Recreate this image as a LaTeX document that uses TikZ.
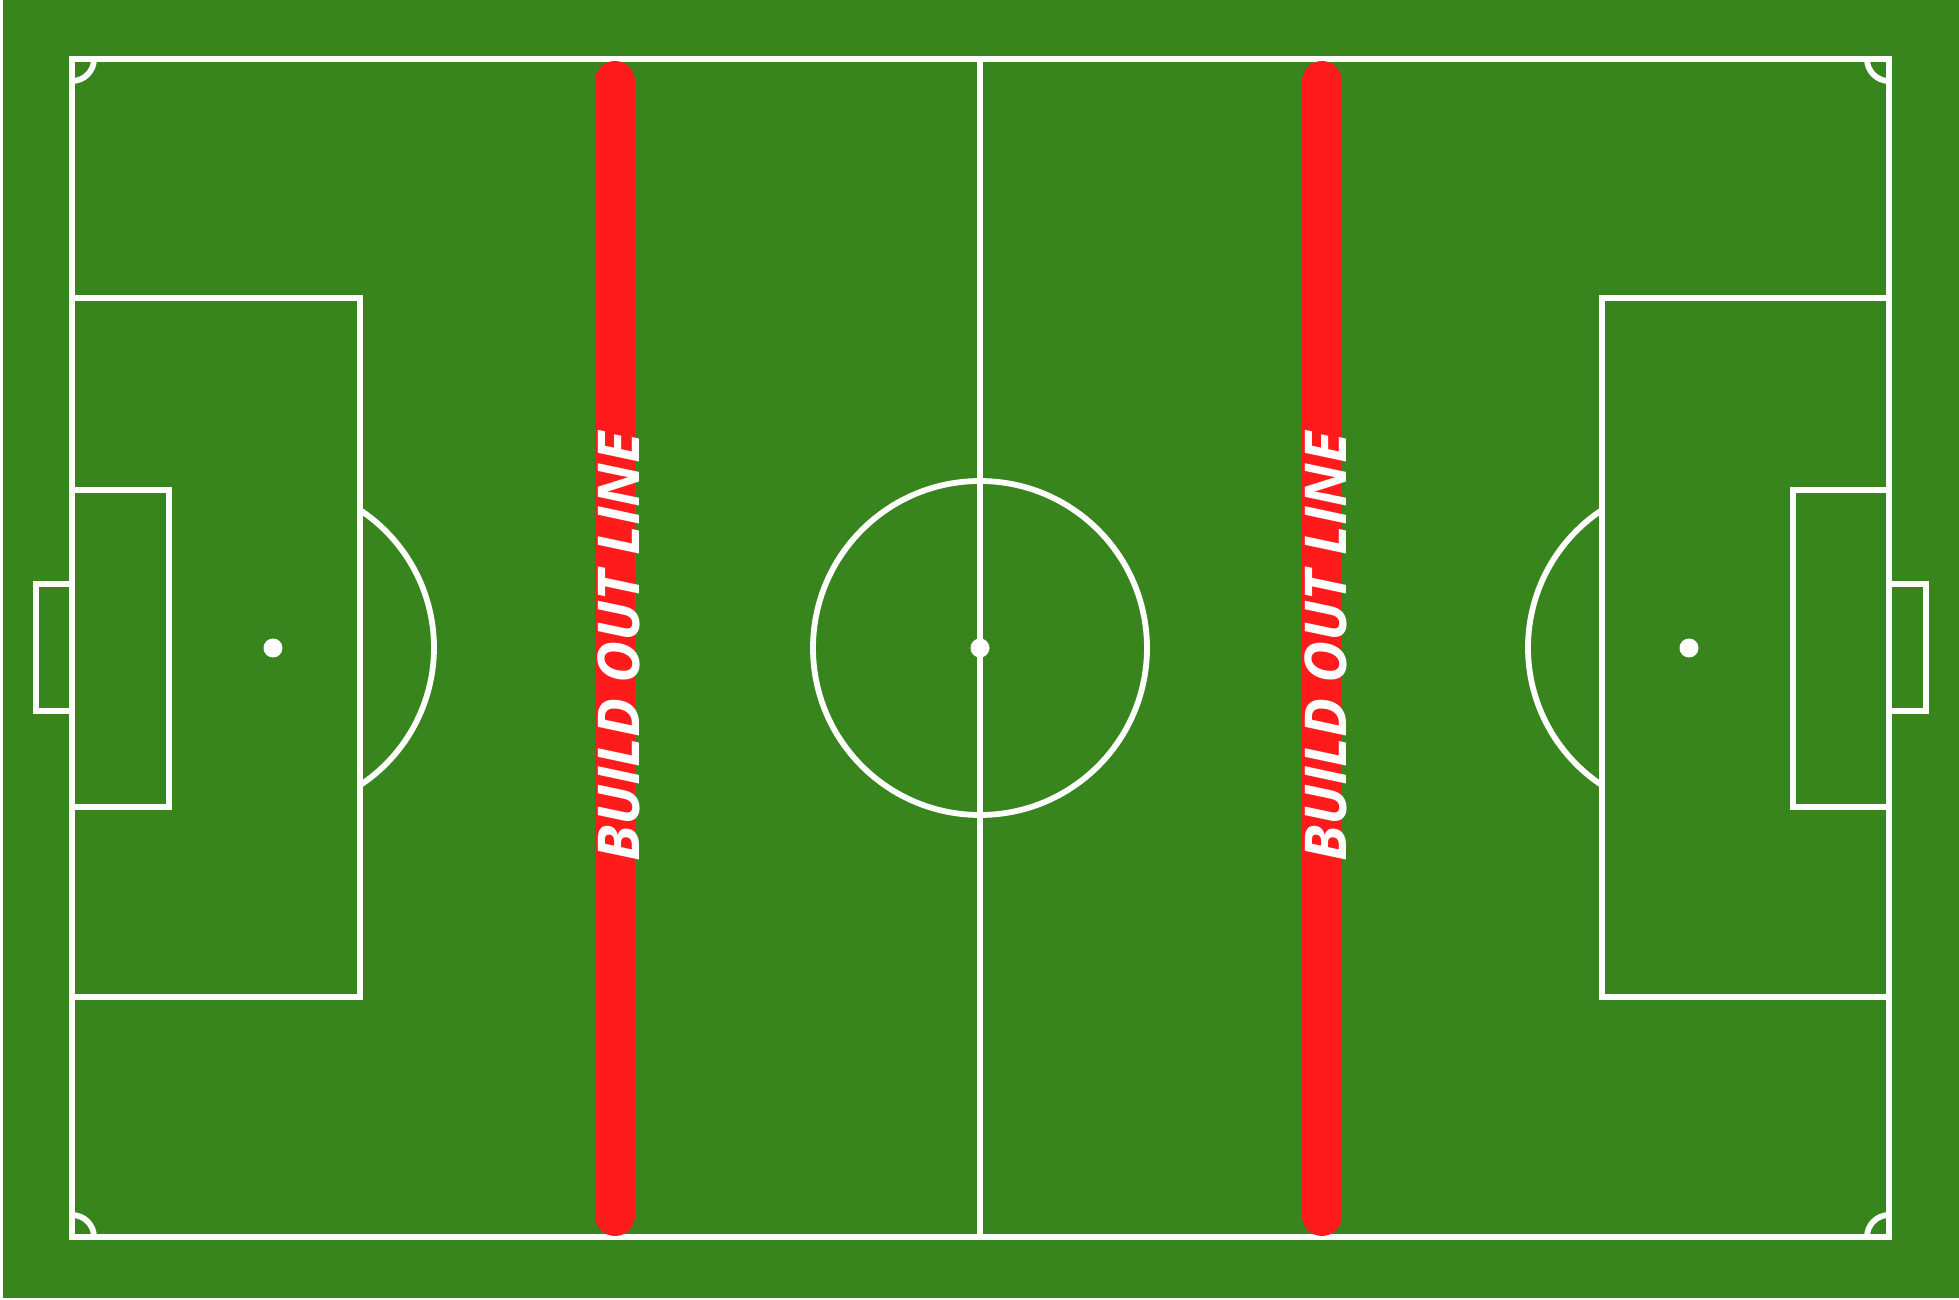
\documentclass[tikz,border=0pt]{standalone}
\usepackage{fontspec}
\setmainfont{Open Sans}
\definecolor{pitch}{RGB}{56,133,30}
\definecolor{boline}{RGB}{255,26,28}
\begin{document}
\begin{tikzpicture}[x=0.01cm,y=-0.01cm,
  chalk/.style={draw=white,line width=0.058cm},
  redbar/.style={draw=boline,line width=0.40cm,line cap=round},
  bolabel/.style={text=white,font=\bfseries\itshape\fontsize{16.4}{18}\selectfont,rotate=90,inner sep=0pt}]
\useasboundingbox (0,0) rectangle (1959,1300);
\fill[white] (0,0) rectangle (1959,1300);
\fill[pitch] (3,0) rectangle (1959,1298);
% outer lines
\draw[chalk] (72,59) rectangle (1889,1237);
\draw[chalk] (980,59) -- (980,1237);
% centre circle and spot
\draw[chalk] (980,648) circle[radius=167];
\fill[white] (980,648) circle[radius=9.5];
% left penalty area
\draw[chalk] (72,298) rectangle (360,997);
\draw[chalk] (72,490) rectangle (169,807);
\draw[chalk] (72,584) rectangle (36,711);
\fill[white] (273,648) circle[radius=9.5];
\draw[chalk] (360,510) arc[start angle=-56.53,end angle=56.53,radius=165];
% right penalty area
\draw[chalk] (1889,298) rectangle (1602,997);
\draw[chalk] (1889,490) rectangle (1793,807);
\draw[chalk] (1889,584) rectangle (1926,711);
\fill[white] (1689,648) circle[radius=9.5];
\draw[chalk] (1602,510) arc[start angle=236.53,end angle=123.47,radius=165];
% corner arcs
\draw[chalk] (94,59) arc[start angle=0,end angle=90,radius=22];
\draw[chalk] (1867,59) arc[start angle=180,end angle=90,radius=22];
\draw[chalk] (94,1237) arc[start angle=0,end angle=-90,radius=22];
\draw[chalk] (1867,1237) arc[start angle=180,end angle=270,radius=22];
% build out lines
\coordinate (lt) at (615,81);
\coordinate (lb) at (615,1216);
\coordinate (rt) at (1322,81);
\coordinate (rb) at (1322,1216);
\draw[redbar] (lt) -- (lb);
\draw[redbar] (rt) -- (rb);
\node[bolabel] (ltext) at (619,647) {BUILD OUT LINE};
\node[bolabel] (rtext) at (1326,647) {BUILD OUT LINE};
\end{tikzpicture}
\end{document}
